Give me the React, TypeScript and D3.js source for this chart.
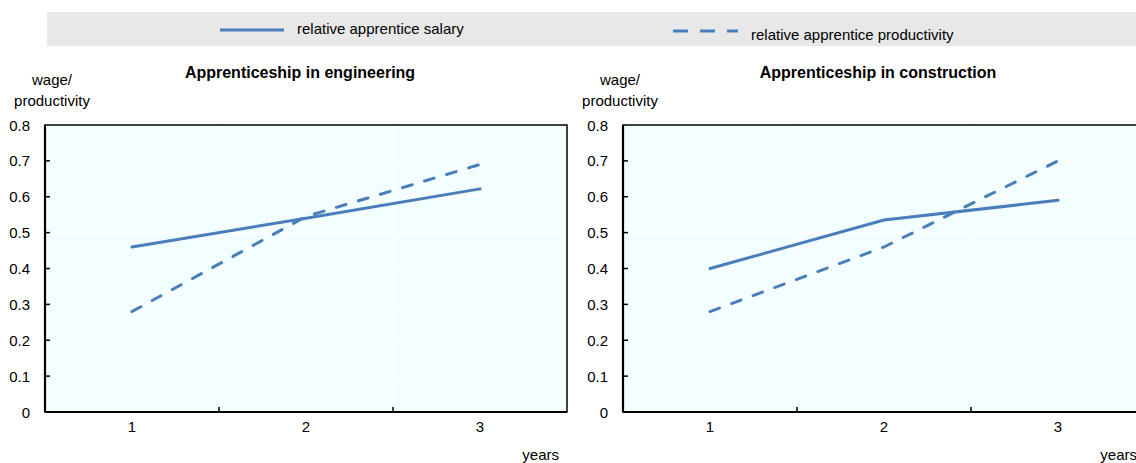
import React, { useRef, useEffect } from "react";
import * as d3 from "d3";

const years = ["1", "2", "3"];
const yTicks = [0, 0.1, 0.2, 0.3, 0.4, 0.5, 0.6, 0.7, 0.8];

const engineeringSalary = [0.46, 0.54, 0.622];
const engineeringProductivity = [0.28, 0.545, 0.69];
const constructionSalary = [0.4, 0.535, 0.59];
const constructionProductivity = [0.28, 0.46, 0.7];

const salaryLabel = "relative apprentice salary";
const productivityLabel = "relative apprentice productivity";

const panels = [
  { title: "Apprenticeship in engineering", salary: engineeringSalary, productivity: engineeringProductivity, left: 45, labelShift: 7 },
  { title: "Apprenticeship in construction", salary: constructionSalary, productivity: constructionProductivity, left: 623, labelShift: -3 },
];

const W = 1136;
const H = 463;
const plotW = 522;
const top = 125;
const bottom = 412;
const blue = "#4a7ebb";
const font = "'Liberation Sans', Arial, sans-serif";

const App = () => {
  const svgRef = useRef(null);

  useEffect(() => {
    const svg = d3.select(svgRef.current);
    svg.selectAll("*").remove();

    /* legend strip */
    svg.append("rect").attr("x", 47).attr("y", 12).attr("width", W - 47).attr("height", 34).attr("fill", "#e8e8e8");
    svg.append("line").attr("x1", 220).attr("x2", 284).attr("y1", 30).attr("y2", 30)
      .attr("stroke", blue).attr("stroke-width", 3);
    svg.append("text").attr("x", 297).attr("y", 34).text(salaryLabel);
    svg.append("line").attr("x1", 673).attr("x2", 738).attr("y1", 31).attr("y2", 31)
      .attr("stroke", blue).attr("stroke-width", 3).attr("stroke-dasharray", "15,12");
    svg.append("text").attr("x", 751).attr("y", 40).text(productivityLabel);

    const y = d3.scaleLinear().domain([0, 0.8]).range([bottom, top]);

    panels.forEach((p) => {
      const x = d3.scaleBand().domain(years).range([p.left, p.left + plotW]);
      const cx = (d, i) => x(years[i]) + x.bandwidth() / 2;
      const g = svg.append("g");

      g.append("rect").attr("x", p.left).attr("y", top).attr("width", plotW).attr("height", bottom - top)
        .attr("fill", "#f2feff");

      /* white grid */
      g.selectAll(".hgrid").data(yTicks.slice(1, -1)).enter().append("line")
        .attr("x1", p.left).attr("x2", p.left + plotW)
        .attr("y1", (d) => y(d)).attr("y2", (d) => y(d))
        .attr("stroke", "#ffffff").attr("stroke-width", 1.5);
      g.selectAll(".vgrid").data(years.slice(1)).enter().append("line")
        .attr("x1", (d) => x(d)).attr("x2", (d) => x(d))
        .attr("y1", top).attr("y2", bottom)
        .attr("stroke", "#ffffff").attr("stroke-width", 1.5);

      /* frame */
      g.append("rect").attr("x", p.left).attr("y", top).attr("width", plotW).attr("height", bottom - top)
        .attr("fill", "none").attr("stroke", "#000").attr("stroke-width", 1.5);
      g.append("line").attr("x1", p.left).attr("x2", p.left + plotW).attr("y1", bottom).attr("y2", bottom)
        .attr("stroke", "#000").attr("stroke-width", 2.2);
      g.append("line").attr("x1", p.left).attr("x2", p.left).attr("y1", top).attr("y2", bottom)
        .attr("stroke", "#000").attr("stroke-width", 2.2);

      /* ticks */
      g.selectAll(".ytick").data(yTicks.slice(1, -1)).enter().append("line")
        .attr("x1", p.left).attr("x2", p.left + 5)
        .attr("y1", (d) => y(d)).attr("y2", (d) => y(d))
        .attr("stroke", "#000").attr("stroke-width", 1.5);
      g.selectAll(".xtick").data(years.slice(1)).enter().append("line")
        .attr("x1", (d) => x(d)).attr("x2", (d) => x(d))
        .attr("y1", bottom).attr("y2", bottom - 5)
        .attr("stroke", "#000").attr("stroke-width", 1.5);

      g.selectAll(".ylab").data(yTicks).enter().append("text")
        .attr("x", p.left - 15).attr("y", (d) => y(d) + 5.5)
        .attr("text-anchor", "end")
        .text((d) => (d === 0 ? "0" : d3.format(".1f")(d)));
      g.selectAll(".xlab").data(years).enter().append("text")
        .attr("x", (d) => x(d) + x.bandwidth() / 2).attr("y", bottom + 20)
        .attr("text-anchor", "middle").text((d) => d);

      g.append("text").attr("x", p.left + plotW - 8).attr("y", 460).attr("text-anchor", "end").text("years");
      g.append("text").attr("x", p.left + p.labelShift).attr("y", 85).attr("text-anchor", "middle").text("wage/");
      g.append("text").attr("x", p.left + p.labelShift).attr("y", 106).attr("text-anchor", "middle").text("productivity");
      g.append("text").attr("x", p.left + plotW / 2 - 6).attr("y", 78).attr("text-anchor", "middle")
        .style("font-weight", "700").style("font-size", "16px").text(p.title);

      const line = d3.line().x((d, i) => cx(d, i)).y((d) => y(d));
      g.append("path").datum(p.salary).attr("d", line)
        .attr("fill", "none").attr("stroke", blue).attr("stroke-width", 3).attr("stroke-linecap", "round");
      g.append("path").datum(p.productivity).attr("d", line)
        .attr("fill", "none").attr("stroke", blue).attr("stroke-width", 3)
        .attr("stroke-linecap", "round").attr("stroke-dasharray", "10,13");
    });
  }, []);

  return (
    <svg
      ref={svgRef}
      width={W}
      height={H}
      style={{ position: "absolute", left: 0, top: 0, fontFamily: font, fontSize: "15px", fill: "#000" }}
    ></svg>
  );
};

export default App;
